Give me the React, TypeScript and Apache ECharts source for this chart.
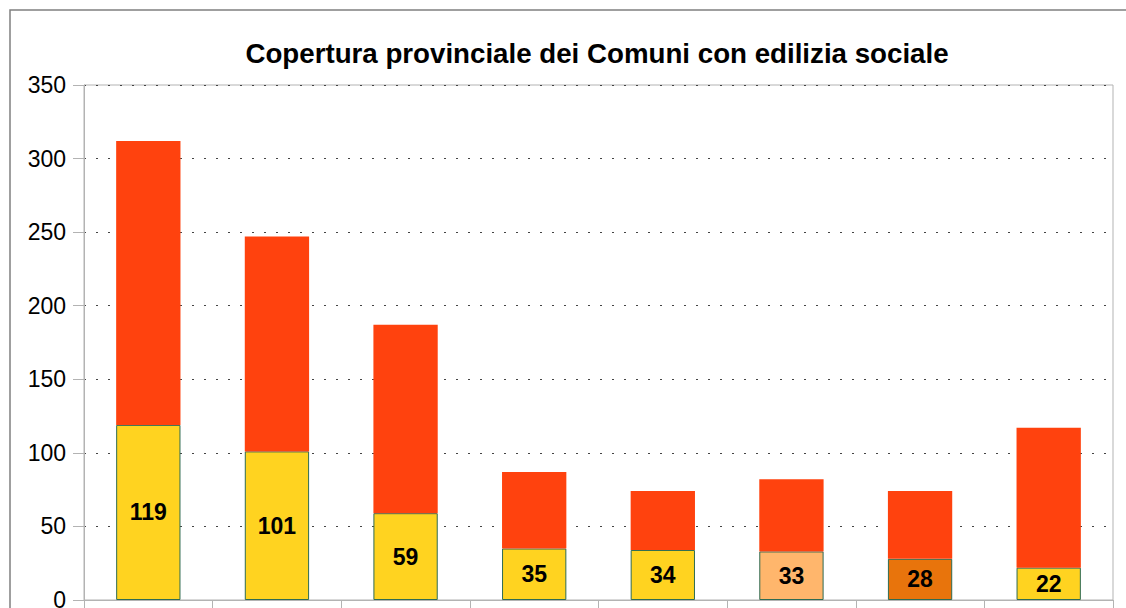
import React, { useEffect, useRef } from "react";
import * as echarts from "echarts";

const categories = ["A", "B", "C", "D", "E", "F", "G", "H"];
const withSocial = [119, 101, 59, 35, 34, 33, 28, 22];
const withoutSocial = [193, 146, 128, 52, 40, 49, 46, 95];
const bottomColors = ["#FFD320", "#FFD320", "#FFD320", "#FFD320", "#FFD320", "#FFB66C", "#E8740C", "#FFD320"];
const yTicks = [0, 50, 100, 150, 200, 250, 300, 350];

export default function App() {
  const ref = useRef<HTMLDivElement>(null);
  useEffect(() => {
    const chart = echarts.init(ref.current!, undefined, { renderer: "svg" });
    const font = "'Liberation Sans', Arial, sans-serif";
    chart.setOption({
      animation: false,
      backgroundColor: "#ffffff",
      title: {
        text: "Copertura provinciale dei Comuni con edilizia sociale",
        left: 592,
        textAlign: "center",
        top: 34,
        textStyle: { fontFamily: font, fontSize: 27.7, fontWeight: "bold", color: "#000" },
      },
      graphic: [
        {
          type: "rect",
          shape: { x: 10, y: 10, width: 1140, height: 640 },
          style: { fill: "none", stroke: "#808080", lineWidth: 1.5 },
          z: 100,
        },
      ],
      grid: {
        left: 84,
        top: 85,
        width: 1029,
        height: 515,
        show: true,
        borderColor: "#b3b3b3",
        borderWidth: 1,
      },
      xAxis: {
        type: "category",
        data: categories,
        axisLine: { lineStyle: { color: "#b3b3b3" } },
        axisTick: { show: true, length: 10, lineStyle: { color: "#b3b3b3" } },
        axisLabel: { show: false },
      },
      yAxis: {
        type: "value",
        min: yTicks[0],
        max: yTicks[yTicks.length - 1],
        interval: 50,
        axisLine: { show: true, lineStyle: { color: "#b3b3b3" } },
        axisTick: { show: true, length: 11, lineStyle: { color: "#b3b3b3" } },
        axisLabel: { fontFamily: font, fontSize: 23, color: "#000", margin: 18 },
        splitLine: { lineStyle: { color: "#444", type: [2, 10], width: 1 } },
      },
      series: [
        {
          type: "bar",
          stack: "tot",
          barWidth: "50%",
          data: withSocial.map((v, i) => ({
            value: v,
            itemStyle: { color: bottomColors[i] },
          })),
          itemStyle: { borderColor: "#2f6b52", borderWidth: 1 },
          label: {
            show: true,
            position: "inside",
            fontFamily: font,
            fontSize: 23,
            fontWeight: "bold",
            color: "#000",
          },
        },
        {
          type: "bar",
          stack: "tot",
          barWidth: "50%",
          data: withoutSocial,
          itemStyle: { color: "#FF420E" },
        },
      ],
    });
    return () => chart.dispose();
  }, []);
  return (
    <div
      ref={ref}
      style={{ position: "absolute", left: 0, top: 0, width: 1126, height: 640 }}
    />
  );
}
